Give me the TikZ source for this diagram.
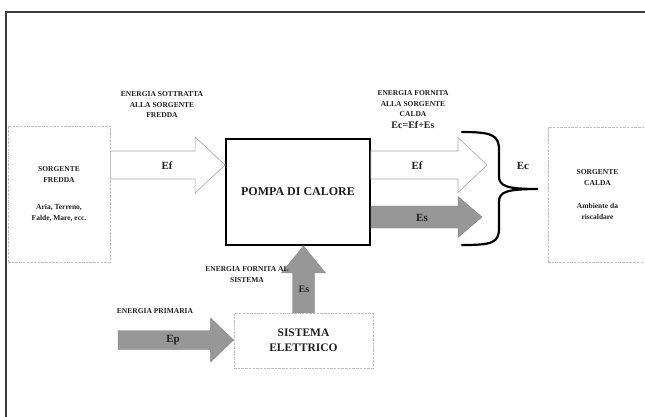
\documentclass[tikz,border=0pt]{standalone}
\usepackage{fontspec}
\setmainfont{Liberation Serif}
\usetikzlibrary{positioning,calc}
\definecolor{Frame}{HTML}{3C3C3C}
\definecolor{Dash}{HTML}{BDBDBD}
\definecolor{Shaft}{HTML}{979797}
\definecolor{Rim}{HTML}{A6A6A6}
\definecolor{Ink}{HTML}{1E1E1E}
\newcommand{\notefont}{\bfseries\fontsize{7.5}{10.5}\selectfont}
\newcommand{\tagfont}{\bfseries\fontsize{11}{13}\selectfont}
% fat arrow pointing right: style, tail, tip, half shaft, half head, head length
\newcommand{\hfat}[6]{\path[#1] let \p1=#2, \p2=#3 in
  (\x1,\y1-#4) -- (\x2-#6,\y1-#4) -- (\x2-#6,\y1-#5) -- (\x2,\y1)
  -- (\x2-#6,\y1+#5) -- (\x2-#6,\y1+#4) -- (\x1,\y1+#4) -- cycle;}
% fat arrow pointing up
\newcommand{\vfat}[6]{\path[#1] let \p1=#2, \p2=#3 in
  (\x1-#4,\y1) -- (\x1-#4,\y2-#6) -- (\x1-#5,\y2-#6) -- (\x1,\y2)
  -- (\x1+#5,\y2-#6) -- (\x1+#4,\y2-#6) -- (\x1+#4,\y1) -- cycle;}
\tikzset{
 source/.style={draw=Dash,line width=0.8pt,dash pattern=on 2.5pt off 1.2pt,
   align=center,font=\notefont,text=Ink,inner sep=0pt},
 pump/.style={draw=black,line width=1.8pt,font=\bfseries\fontsize{12}{14}\selectfont,
   text=Ink,inner sep=0pt},
 note/.style={font=\notefont,align=center,text=Ink,inner sep=0pt},
 tag/.style={font=\tagfont,text=Ink,inner sep=0pt},
 hollow/.style={draw=Rim,line width=0.6pt,fill=white},
 solid/.style={fill=Shaft,draw=Shaft!85!black,line width=0.3pt},
 brace/.style={draw=black,line width=2.2pt,line cap=round}
}
\begin{document}
\begin{tikzpicture}[x=1pt,y=-1pt]
\useasboundingbox (0,0) rectangle (645,416);
\clip (0,0) rectangle (645,416);
\draw[Frame,line width=1.4pt] (6,12) rectangle (660,430);
% boxes
\node[source,minimum width=102,minimum height=136] (fredda) at (59,194)
  {SORGENTE\\FREDDA\\[17pt]Aria, Terreno,\\Falde, Mare, ecc.};
\node[pump,minimum width=144,minimum height=106] (pompa) at (298,192) {POMPA DI CALORE};
\node[source,minimum width=99,minimum height=135] (calda) at (597.5,194.5)
  {SORGENTE\\CALDA\\[13pt]Ambiente da\\riscaldare};
\node[source,font=\bfseries\fontsize{11.5}{15}\selectfont,minimum width=139,minimum height=55] (sistema) at (303.5,340.5)
  {SISTEMA\\ELETTRICO};
% free ends
\coordinate (eftip) at (487,165);
\coordinate (estip) at (482,217);
\coordinate (eptail) at (118,340);
% arrows
\hfat{hollow}{(fredda.east |- 0,165)}{(pompa.west)}{14pt}{28pt}{30pt}
\hfat{hollow}{(pompa.east |- 0,165)}{(eftip)}{14pt}{27.5pt}{29pt}
\hfat{solid}{(pompa.east |- 0,217)}{(estip)}{11pt}{20.5pt}{24pt}
\hfat{solid}{(eptail)}{(sistema.west)}{9.5pt}{22pt}{23pt}
\vfat{solid}{(sistema.north)}{(pompa.south)}{11pt}{22pt}{27pt}
% brace
\draw[brace] (462,132) .. controls (492,132) and (499,135) .. (499,150) -- (499,176)
  .. controls (499,186) and (506,189) .. (538,189)
  .. controls (506,189) and (499,192) .. (499,202) -- (499,228)
  .. controls (499,243) and (492,245) .. (462,245);
% labels
\node[tag] (efin) at (167,166) {Ef};
\node[tag] (efout) at (417,166) {Ef};
\node[tag] (esout) at (422,218) {Es};
\node[tag,font=\bfseries\fontsize{10}{12}\selectfont] (esup) at (304,289) {Es};
\node[tag] (ep) at (173,340) {Ep};
\node[tag] (ec) at (523,166) {Ec};
\node[note] (lblfredda) at (162,105) {ENERGIA SOTTRATTA\\ALLA SORGENTE\\FREDDA};
\node[note] (lblcalda) at (413,104) {ENERGIA FORNITA\\ALLA SORGENTE\\CALDA};
\node[tag,font=\bfseries\fontsize{10}{12}\selectfont,below=4pt of lblcalda] (sum) {Ec=Ef+Es};
\node[note] (lblsist) at (247,274.5) {ENERGIA FORNITA AL\\SISTEMA};
\node[note] (lblprim) at (155,311) {ENERGIA PRIMARIA};
\end{tikzpicture}
\end{document}
